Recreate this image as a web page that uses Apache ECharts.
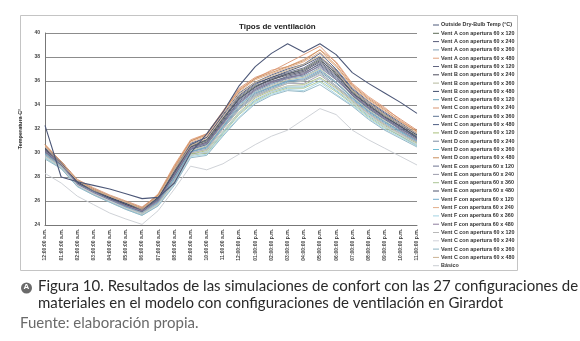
<!DOCTYPE html>
<html><head><meta charset="utf-8">
<script src="https://cdn.jsdelivr.net/npm/echarts@6/dist/echarts.min.js"></script>
<style>html,body{margin:0;padding:0;background:#fff;}#c{width:580px;height:341px;}</style>
</head><body><div id="c"></div>
<script>
const hours = ["12:00:00 a.m.","01:00:00 a.m.","02:00:00 a.m.","03:00:00 a.m.","04:00:00 a.m.","05:00:00 a.m.","06:00:00 a.m.","07:00:00 a.m.","08:00:00 a.m.","09:00:00 a.m.","10:00:00 a.m.","11:00:00 a.m.","12:00:00 p.m.","01:00:00 p.m.","02:00:00 p.m.","03:00:00 p.m.","04:00:00 p.m.","05:00:00 p.m.","06:00:00 p.m.","07:00:00 p.m.","08:00:00 p.m.","09:00:00 p.m.","10:00:00 p.m.","11:00:00 p.m."];
const yTicks = [24,26,28,30,32,34,36,38,40];

const outside = [32.3,28.0,27.6,27.3,27.0,26.6,26.2,26.3,27.5,30.0,31.6,33.4,35.6,37.2,38.3,39.1,38.4,39.1,38.2,36.7,35.8,35.0,34.2,33.3];
const ventA120 = [30.3,29.1,27.6,26.9,26.3,25.7,25.2,26.2,28.4,30.6,31.0,32.8,34.6,35.6,36.1,36.6,37.0,37.8,36.6,35.1,34.0,33.1,32.2,31.4];
const ventA240 = [30.2,29.1,27.5,26.8,26.2,25.7,25.2,26.1,28.2,30.4,30.8,32.6,34.3,35.3,35.9,36.4,36.7,37.4,36.3,34.9,33.8,32.9,32.1,31.2];
const ventA360 = [30.1,29.0,27.5,26.8,26.2,25.6,25.1,26.1,28.1,30.3,30.7,32.4,34.1,35.1,35.7,36.2,36.4,37.1,36.1,34.8,33.7,32.8,31.9,31.1];
const ventA480 = [30.6,29.3,27.7,27.0,26.4,25.9,25.4,26.6,29.0,31.1,31.6,33.4,35.3,36.2,36.9,37.2,37.8,38.6,37.6,35.8,34.7,33.8,32.7,31.8];
const ventB120 = [30.4,29.2,27.6,26.9,26.3,25.8,25.3,26.3,28.5,30.7,31.1,32.9,34.7,35.7,36.3,36.7,37.1,37.9,36.8,35.2,34.1,33.2,32.3,31.5];
const ventB240 = [30.3,29.1,27.6,26.9,26.3,25.7,25.2,26.2,28.3,30.5,30.9,32.7,34.5,35.5,36.1,36.5,36.8,37.6,36.5,35.0,33.9,33.0,32.2,31.3];
const ventB360 = [30.0,29.0,27.4,26.7,26.1,25.6,25.1,26.0,28.0,30.2,30.6,32.3,33.9,35.0,35.6,36.1,36.3,37.0,35.9,34.7,33.6,32.7,31.8,31.1];
const ventB480 = [30.4,29.2,27.6,27.0,26.3,25.8,25.3,26.3,28.5,30.7,31.3,33.1,34.8,35.8,36.3,36.8,37.3,38.0,36.9,35.3,34.2,33.3,32.4,31.5];
const ventC120 = [29.9,28.9,27.4,26.7,26.1,25.5,25.0,25.9,27.8,30.1,30.4,32.1,33.7,34.8,35.4,35.9,36.0,36.7,35.6,34.5,33.4,32.5,31.7,30.9];
const ventC240 = [30.7,29.3,27.8,27.1,26.5,26.0,25.5,26.5,28.9,31.0,31.6,33.5,35.4,36.3,36.8,37.5,38.2,38.9,37.5,35.7,34.6,33.7,32.8,31.9];
const ventC360 = [30.1,29.0,27.5,26.8,26.2,25.6,25.1,26.1,28.1,30.3,30.7,32.5,34.2,35.2,35.8,36.3,36.5,37.3,36.2,34.8,33.7,32.8,32.0,31.2];
const ventC480 = [30.5,29.3,27.7,27.0,26.4,25.9,25.4,26.4,28.7,30.8,31.3,33.2,35.0,35.9,36.5,37.0,37.4,38.3,37.0,35.4,34.3,33.4,32.5,31.6];
const ventD120 = [29.8,28.8,27.3,26.6,26.0,25.4,24.9,25.8,27.6,29.9,30.2,31.8,33.4,34.6,35.2,35.6,35.7,36.3,35.4,34.3,33.2,32.3,31.5,30.8];
const ventD240 = [30.0,28.9,27.4,26.7,26.1,25.5,25.0,26.0,27.9,30.1,30.5,32.2,33.8,34.9,35.5,36.0,36.1,36.8,35.8,34.6,33.5,32.6,31.8,31.0];
const ventD360 = [29.7,28.8,27.3,26.6,26.0,25.4,24.9,25.8,27.6,29.8,30.1,31.7,33.3,34.4,35.1,35.5,35.5,36.2,35.2,34.2,33.1,32.2,31.4,30.7];
const ventD480 = [30.7,29.3,27.7,27.0,26.4,25.9,25.4,26.5,28.8,31.0,31.5,33.4,35.2,36.2,36.7,37.2,37.7,38.6,37.3,35.6,34.5,33.6,32.6,31.8];
const ventE120 = [30.1,29.0,27.5,26.8,26.2,25.6,25.1,26.2,28.1,30.3,30.9,32.5,34.4,35.4,36.0,36.3,36.6,37.5,36.4,34.8,33.8,32.9,32.0,31.3];
const ventE240 = [29.8,28.9,27.4,26.7,26.1,25.5,25.0,25.9,27.7,30.0,30.3,32.0,33.6,34.7,35.3,35.8,35.8,36.5,35.5,34.4,33.3,32.4,31.6,30.9];
const ventE360 = [29.6,28.8,27.3,26.6,26.0,25.4,24.9,25.7,27.5,29.8,30.0,31.6,33.2,34.3,35.0,35.4,35.4,36.0,35.1,34.1,33.0,32.1,31.4,30.6];
const ventE480 = [30.2,29.2,27.5,26.9,26.2,25.8,25.3,26.3,28.3,30.5,31.1,32.9,34.5,35.5,36.2,36.6,36.9,37.7,36.7,35.0,34.0,33.0,32.2,31.3];
const ventF120 = [29.9,28.9,27.4,26.7,26.1,25.5,25.0,25.9,27.9,30.1,30.5,32.2,34.0,35.0,35.5,36.0,36.2,36.9,35.9,34.6,33.5,32.6,31.8,31.0];
const ventF240 = [30.6,29.3,27.7,27.0,26.4,25.9,25.4,26.4,28.7,30.9,31.4,33.3,35.1,36.1,36.6,37.1,37.6,38.4,37.2,35.5,34.4,33.5,32.6,31.7];
const ventF360 = [29.6,28.7,27.2,26.5,25.9,25.3,24.8,25.6,27.4,29.7,29.9,31.5,33.0,34.2,34.9,35.3,35.2,35.9,34.9,34.0,32.9,32.0,31.3,30.6];
const ventF480 = [30.2,29.1,27.4,26.7,26.1,25.6,25.2,26.0,28.2,30.4,30.8,32.4,34.1,35.3,35.9,36.2,36.6,37.2,36.1,34.9,33.8,32.9,31.9,31.1];
const ventG120 = [29.8,28.9,27.3,26.6,26.0,25.4,25.0,25.8,27.7,30.0,30.3,32.0,33.6,34.8,35.3,35.8,36.0,36.6,35.6,34.4,33.3,32.4,31.6,30.9];
const ventG240 = [29.7,28.8,27.3,26.6,26.0,25.4,24.9,25.7,27.5,29.8,30.1,31.8,33.3,34.5,35.1,35.6,35.6,36.2,35.3,34.2,33.2,32.2,31.5,30.7];
const ventG360 = [29.5,28.7,27.2,26.5,25.9,25.3,24.8,25.6,27.3,29.6,29.8,31.4,32.9,34.1,34.8,35.2,35.1,35.7,34.8,33.9,32.8,31.9,31.2,30.5];
const ventG480 = [30.5,29.1,27.7,26.9,26.4,25.9,25.3,26.4,28.6,30.6,31.2,33.0,34.9,35.9,36.4,36.9,37.4,38.1,36.8,35.2,34.2,33.2,32.4,31.6];
const basico = [28.3,27.5,26.4,25.7,25.0,24.5,24.05,25.2,27.0,28.9,28.6,29.1,29.9,30.7,31.4,31.9,32.8,33.7,33.2,31.9,31.1,30.4,29.7,29.0];

const seriesNames = [
 "Outside Dry-Bulb Temp (°C)",
 "Vent A con apertura 60 x 120","Vent A con apertura 60 x 240","Vent A con apertura 60 x 360","Vent A con apertura 60 x 480",
 "Vent B con apertura 60 x 120","Vent B con apertura 60 x 240","Vent B con apertura 60 x 360","Vent B con apertura 60 x 480",
 "Vent C con apertura 60 x 120","Vent C con apertura 60 x 240","Vent C con apertura 60 x 360","Vent C con apertura 60 x 480",
 "Vent D con apertura 60 x 120","Vent D con apertura 60 x 240","Vent D con apertura 60 x 360","Vent D con apertura 60 x 480",
 "Vent E con apertura 60 x 120","Vent E con apertura 60 x 240","Vent E con apertura 60 x 360","Vent E con apertura 60 x 480",
 "Vent F con apertura 60 x 120","Vent F con apertura 60 x 240","Vent F con apertura 60 x 360","Vent F con apertura 60 x 480",
 "Vent C con apertura 60 x 120 ","Vent C con apertura 60 x 240 ","Vent C con apertura 60 x 360 ","Vent C con apertura 60 x 480 ",
 "Básico"
];
const seriesData = [outside,
 ventA120,ventA240,ventA360,ventA480,
 ventB120,ventB240,ventB360,ventB480,
 ventC120,ventC240,ventC360,ventC480,
 ventD120,ventD240,ventD360,ventD480,
 ventE120,ventE240,ventE360,ventE480,
 ventF120,ventF240,ventF360,ventF480,
 ventG120,ventG240,ventG360,ventG480,
 basico];
const seriesColors = [
 "#4d5878",
 "#5c6a56","#555a78","#7f9db3","#e0a07c",
 "#606480","#4c4c5c","#b4b89c","#3f4c6c",
 "#6aa2ba","#d99470","#5c7292","#4c5c82",
 "#a8bf7a","#7c8ca2","#72bcd2","#c98d5a",
 "#6c7290","#9c9cac","#a9c493","#4c526c",
 "#72aacb","#e3ad88","#a2d2e2","#8c7c9c",
 "#b8b8b8","#cfd0d8","#8cb2c2","#cbb292",
 "#c9cdd2"
];

const chart = echarts.init(document.getElementById('c'), null, {renderer:'canvas'});
const series = seriesData.map((d,i)=>({
  name: seriesNames[i], type:'line', data:d, symbol:'none', smooth:false,
  lineStyle:{width: i===0?1.1:0.9, color: seriesColors[i]},
  itemStyle:{color: seriesColors[i]}, z: i===0?5:2, animation:false
}));

chart.setOption({
  animation:false,
  backgroundColor:'#fff',
  title:{text:'Tipos de ventilación', left:234, top:18,
    textStyle:{fontSize:8, fontWeight:'bold', color:'#222', fontFamily:'Liberation Sans, Arial'}},
  grid:{left:45, right:163, top:33, bottom:116, containLabel:false},
  legend:{orient:'vertical', left:428, top:17, itemWidth:6, itemHeight:1, itemGap:2.3,
    icon:'rect', data:seriesNames,
    textStyle:{fontSize:5.4, fontWeight:'bold', color:'#333', fontFamily:'Liberation Sans, Arial', lineHeight:6, padding:[0,0,0,-3]}},
  xAxis:{type:'category', data:hours, boundaryGap:false,
    axisLine:{lineStyle:{color:'#777', width:1}}, axisTick:{show:false},
    axisLabel:{rotate:90, fontSize:5, fontWeight:'bold', color:'#444', margin:4, interval:0, fontFamily:'Liberation Sans, Arial'},
    splitLine:{show:false}},
  yAxis:{type:'value', min:yTicks[0], max:yTicks[yTicks.length-1], interval:2,
    name:'Temperatura C°', nameLocation:'middle', nameGap:12, nameRotate:90,
    nameTextStyle:{fontSize:5.5, fontWeight:'bold', color:'#333', fontFamily:'Liberation Sans, Arial'},
    axisLine:{show:true, lineStyle:{color:'#777', width:1}}, axisTick:{show:false},
    axisLabel:{fontSize:5, fontWeight:'bold', color:'#444', margin:5, fontFamily:'Liberation Sans, Arial'},
    splitLine:{lineStyle:{color:'#8c8c8c', width:1}}},
  series: series,
  graphic:[
    {type:'rect', shape:{x:20.5, y:15.5, width:497, height:255}, style:{fill:'none', stroke:'#c4c4c4', lineWidth:1}, silent:true, z:-1},
    {type:'circle', shape:{cx:26.5, cy:288, r:5.5}, style:{fill:'#6a6a6a'}},
    {type:'text', left:23.5, top:283, style:{text:'A', fill:'#fff', font:'bold 8px Liberation Sans'}},
    {type:'text', left:38, top:279, style:{text:'Figura 10. Resultados de las simulaciones de confort con las 27 configuraciones de', fill:'#2a2a2a', font:'15px Lato'}},
    {type:'text', left:38, top:296, style:{text:'materiales en el modelo con configuraciones de ventilación en Girardot', fill:'#2a2a2a', font:'15px Lato'}},
    {type:'text', left:20, top:316, style:{text:'Fuente: elaboración propia.', fill:'#6a6a6a', font:'15px Lato'}}
  ]
});
</script></body></html>
